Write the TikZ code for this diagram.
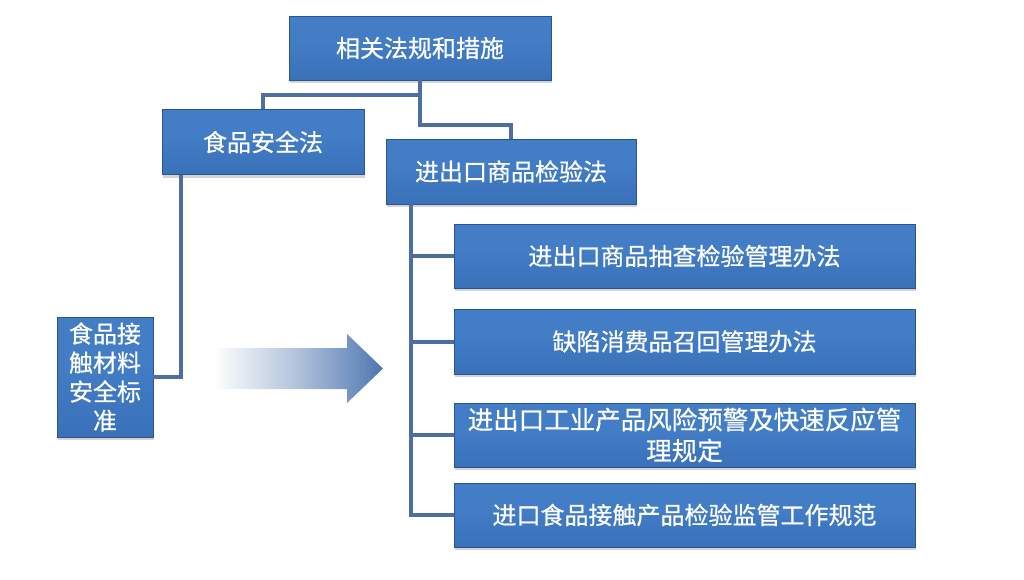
\documentclass[tikz,border=0pt]{standalone}
\usepackage{fontspec}
\newfontfamily\cjk[FakeBold=0.6]{Noto Sans CJK SC}
\usetikzlibrary{shadows}
\definecolor{boxtop}{HTML}{7AA8E0}
\definecolor{boxmid}{HTML}{427DC6}
\definecolor{boxlow}{HTML}{356AB2}
\definecolor{boxbot}{HTML}{285491}
\definecolor{linkblue}{HTML}{4C6EA2}
\definecolor{arrowblue}{HTML}{4F76B0}
\pgfdeclareverticalshading{boxshade}{100bp}{color(0bp)=(boxbot); color(8bp)=(boxlow); color(55bp)=(boxmid); color(93bp)=(boxmid); color(100bp)=(boxtop)}
\tikzset{
  lawbox/.style={shading=boxshade, draw=boxbot, line width=0.6pt,
    drop shadow={shadow xshift=1pt, shadow yshift=-3pt, opacity=0.35},
    text=white, inner sep=0pt, align=center,
    font=\cjk\fontsize{24}{29}\selectfont},
  link/.style={draw=linkblue, line width=4pt}
}

\begin{document}
\begin{tikzpicture}[x=1pt,y=-1pt]
    \useasboundingbox (0,0) rectangle (1024,579);
    % boxes
    \node[lawbox, minimum width=262, minimum height=64] (top) at (420,48) {相关法规和措施};
    \node[lawbox, minimum width=202, minimum height=65] (food) at (263,142) {食品安全法};
    \node[lawbox, minimum width=250, minimum height=65] (insp) at (511,171.5) {进出口商品检验法};
    \node[lawbox, minimum width=96, minimum height=120] (std) at (105,377) {食品接\\触材料\\安全标\\准};
    \node[lawbox, minimum width=461, minimum height=64] (r1) at (684.5,256) {进出口商品抽查检验管理办法};
    \node[lawbox, minimum width=461, minimum height=65] (r2) at (684.5,341.5) {缺陷消费品召回管理办法};
    \node[lawbox, minimum width=461, minimum height=64, font=\cjk\fontsize{25.5}{31}\selectfont] (r3) at (684.5,435) {进出口工业产品风险预警及快速反应管\\理规定};
    \node[lawbox, minimum width=461, minimum height=64] (r4) at (684.5,515) {进口食品接触产品检验监管工作规范};
    % connectors
    \draw[link] (top.south) -- ++(0,15) -| (food.north);
    \draw[link] (top.south) -- ++(0,45) -| (insp.north);
    \coordinate (f1) at ([xshift=19]food.south west);
    \draw[link] (f1) |- (std.east);
    \coordinate (i1) at ([xshift=25]insp.south west);
    \draw[link] (i1) |- (r4.west);
    \foreach \r in {r1,r2,r3}
      \draw[link] (i1 |- \r.west) -- (\r.west);
    % arrow
    \shade[left color=white, right color=arrowblue, middle color=arrowblue!45]
      (213,348) -- (347,348) -- (347,334) -- (383,368.5) -- (347,403) -- (347,389) -- (213,389) -- cycle;
\end{tikzpicture}
\end{document}
